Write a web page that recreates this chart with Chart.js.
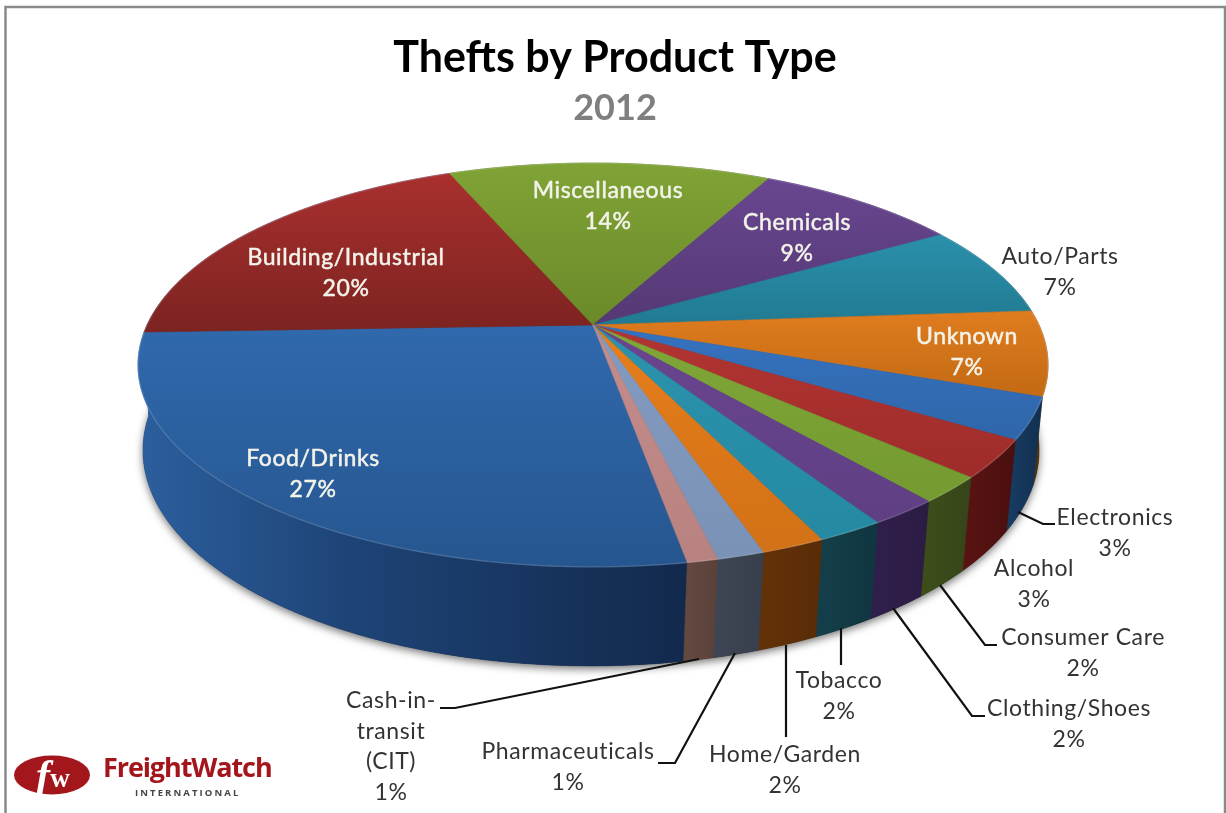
<!DOCTYPE html>
<html>
<head>
<meta charset="utf-8">
<title>Thefts by Product Type</title>
<script src="https://cdn.jsdelivr.net/npm/chart.js@4"></script>
<style>
  html, body { margin: 0; padding: 0; background: #fff; }
  canvas { display: block; }
</style>
</head>
<body>
<canvas id="pie" width="1226" height="813"></canvas>
<script>
const categories = ['Food/Drinks', 'Building/Industrial', 'Miscellaneous', 'Chemicals', 'Auto/Parts', 'Unknown',
    'Electronics', 'Alcohol', 'Consumer Care', 'Clothing/Shoes', 'Tobacco', 'Home/Garden', 'Pharmaceuticals', 'Cash-in-\ntransit\n(CIT)'];
// estimated from the slice edges, the printed labels are rounded
const shares = [27.2, 19.4, 13.9, 8.8, 7.4, 6.8, 3.3, 3.0, 2.1, 2.1, 2.0, 1.9, 1.4, 0.9];
const percentLabels = ['27%', '20%', '14%', '9%', '7%', '7%', '3%', '3%', '2%', '2%', '2%', '2%', '1%', '1%'];

const topLight = ['#3069ad', '#a9302f', '#80a336', '#694690', '#2a90ab', '#df7c1e', '#3572bf', '#b23532', '#80a738', '#6a4590', '#2b93ae', '#e67e1c', '#839bc0', '#c48d8b'];
const topDark = ['#26568f', '#7c2320', '#6a8a29', '#543974', '#217a92', '#c36a14', '#2f66aa', '#9e2c2a', '#749a30', '#5f3f84', '#2589a2', '#d27116', '#7a92b6', '#b88280'];
// Building wall only peeks out at the far left edge, where the original stays blue
const sideLeft = ['#2c5f9e', '#2c5f9e', '#4c6420', '#3a2850', '#18505f', '#5e3a12', '#183c64', '#5a1412', '#3d4e1a', '#301f4c', '#143f4a', '#633208', '#3e4554', '#64493f'];
const sideRight = ['#12294c', '#2c5f9e', '#3c5018', '#2e2040', '#123d47', '#3f2a14', '#12304f', '#4a0f0f', '#36451a', '#2b1c44', '#103640', '#592c08', '#383f4c', '#59423b'];

// label anchors are page pixels, text is centred on them
const labelCentres = [[313, 459], [346, 258], [608, 191], [797, 223], [1060, 257], [967, 337], [1115, 518], [1034, 569], [1083, 638], [1069, 709], [839, 681], [785, 755], [568, 752], [391, 701]];
const whiteLabels = 6; // first six except Auto/Parts sit on the pie
const leaderLines = [
    [[1018, 512], [1043, 524], [1055, 524]],
    [[940, 585], [985, 645], [997, 645]],
    [[893, 608], [972, 716], [985, 716]],
    [[841, 628], [841, 665]],
    [[786, 645], [786, 737]],
    [[735, 653], [675, 763], [658, 763]],
    [[699, 659], [455, 708], [440, 708]]
];

// perspective used to lay the flat pie down
const apex = { x: 593, y: 325 };
const view = { a: 446, b: 194, c: 0.198, depth: 84.5, shrink: 0.015, drift: 2 };

function project(theta, level) {
    const X = Math.sin(theta), Y = Math.cos(theta);
    const d = 1 + view.c * Y + (level ? view.shrink : 0);
    return {
        x: apex.x + view.a * X / d - (level ? view.drift : 0),
        y: apex.y - (view.b * Y - (level ? view.depth : 0)) / d
    };
}

function rimPoints(start, end, level) {
    const pts = [];
    const steps = Math.max(2, Math.ceil((end - start) / 0.01));
    for (let i = 0; i <= steps; i++) {
        pts.push(project(start + (end - start) * i / steps, level));
    }
    return pts;
}

function tracePoints(ctx, pts) {
    pts.forEach((p, i) => (i ? ctx.lineTo(p.x, p.y) : ctx.moveTo(p.x, p.y)));
}

const tiltedPie = {
    id: 'tiltedPie',
    beforeDraw(chart) {
        const ctx = chart.ctx;
        ctx.save();
        ctx.fillStyle = '#fff';
        ctx.fillRect(0, 0, chart.width, chart.height);
        ctx.strokeStyle = '#8a8a8a';
        ctx.lineWidth = 2.5;
        ctx.strokeRect(5.5, 7, 1219.5, 830);
        ctx.restore();
    },
    beforeDatasetDraw(chart) {
        const ctx = chart.ctx;
        const arcs = chart.getDatasetMeta(0).data;
        // chart.js measures from 3 o'clock, theta here from 12 o'clock
        const spans = arcs.map(a => [a.startAngle + Math.PI / 2, a.endAngle + Math.PI / 2]);

        ctx.save();
        // drop shadow under the whole puck
        ctx.shadowColor = 'rgba(0,0,0,0.55)';
        ctx.shadowBlur = 9;
        ctx.shadowOffsetY = 3;
        ctx.fillStyle = '#222';
        ctx.beginPath();
        tracePoints(ctx, rimPoints(0, Math.PI * 2, 1));
        ctx.closePath();
        ctx.fill();
        ctx.restore();

        // outer wall
        spans.forEach((s, i) => {
            const top = rimPoints(s[0], s[1], 0);
            const bottom = rimPoints(s[0], s[1], 1);
            const xs = top.concat(bottom).map(p => p.x);
            const g = ctx.createLinearGradient(Math.min(...xs), 0, Math.max(...xs), 0);
            g.addColorStop(0, sideLeft[i]);
            if (i === 0) g.addColorStop(0.38, '#1e4477');
            g.addColorStop(1, sideRight[i]);
            ctx.fillStyle = g;
            ctx.strokeStyle = g;
            ctx.lineWidth = 0.6;
            ctx.beginPath();
            tracePoints(ctx, top.concat(bottom.reverse()));
            ctx.closePath();
            ctx.fill();
            ctx.stroke();
        });

        // top face
        spans.forEach((s, i) => {
            const rim = rimPoints(s[0], s[1], 0);
            const ys = rim.map(p => p.y).concat(apex.y);
            const g = ctx.createLinearGradient(0, Math.min(...ys), 0, Math.max(...ys));
            g.addColorStop(0, topLight[i]);
            g.addColorStop(1, topDark[i]);
            ctx.fillStyle = g;
            ctx.strokeStyle = g;
            ctx.lineWidth = 0.6;
            ctx.beginPath();
            tracePoints(ctx, [apex].concat(rim));
            ctx.closePath();
            ctx.fill();
            ctx.stroke();
            // soft bevel along the rim
            ctx.strokeStyle = 'rgba(255,255,255,0.16)';
            ctx.lineWidth = 1.4;
            ctx.beginPath();
            tracePoints(ctx, rim);
            ctx.stroke();
        });
        return false;
    },
    afterDraw(chart) {
        const ctx = chart.ctx;
        ctx.save();

        ctx.strokeStyle = '#111';
        ctx.lineWidth = 2.2;
        leaderLines.forEach(line => {
            ctx.beginPath();
            line.forEach((p, i) => (i ? ctx.lineTo(p[0], p[1]) : ctx.moveTo(p[0], p[1])));
            ctx.stroke();
        });

        ctx.letterSpacing = '0.6px';
        ctx.font = '23px Lato';
        ctx.textAlign = 'center';
        ctx.textBaseline = 'middle';
        categories.forEach((name, i) => {
            const lines = name.split('\n').concat(percentLabels[i]);
            const inside = i < whiteLabels && i !== 4;
            ctx.fillStyle = inside ? '#f3f3ea' : '#333';
            ctx.strokeStyle = ctx.fillStyle;
            ctx.lineWidth = 0.5;
            lines.forEach((t, n) => {
                ctx.fillText(t, labelCentres[i][0], labelCentres[i][1] + n * 30.5);
                if (inside) ctx.strokeText(t, labelCentres[i][0], labelCentres[i][1] + n * 30.5);
            });
        });

        drawLogo(ctx);
        ctx.restore();
    }
};

function drawLogo(ctx) {
    ctx.save();
    ctx.fillStyle = '#a3161b';
    ctx.beginPath();
    ctx.ellipse(52, 775, 38, 19.5, 0, 0, Math.PI * 2);
    ctx.fill();
    ctx.fillStyle = '#fff';
    ctx.textAlign = 'center';
    ctx.textBaseline = 'alphabetic';
    ctx.letterSpacing = '0px';
    ctx.font = 'italic bold 42px "Liberation Serif"';
    ctx.fillText('f', 43, 789);
    ctx.font = 'bold 27px "Liberation Serif"';
    ctx.fillText('w', 60, 787);
    ctx.textAlign = 'left';
    ctx.fillStyle = '#a3161b';
    ctx.font = 'bold 27px "Open Sans"';
    ctx.letterSpacing = '-1.1px';
    ctx.fillText('FreightWatch', 103, 777);
    ctx.fillStyle = '#444';
    ctx.font = 'bold 9.5px "Open Sans"';
    ctx.letterSpacing = '2.1px';
    ctx.fillText('INTERNATIONAL', 135, 796);
    ctx.restore();
}

new Chart(document.getElementById('pie'), {
    type: 'pie',
    data: {
        labels: categories,
        datasets: [{ data: shares, backgroundColor: topLight }]
    },
    options: {
        responsive: false,
        animation: false,
        rotation: 170.2,
        layout: { padding: { left: 4 } },
        plugins: {
            legend: { display: false },
            tooltip: { enabled: false },
            title: {
                display: true,
                text: 'Thefts by Product Type',
                color: '#000',
                font: { family: 'Lato', size: 43, weight: 'bold' },
                padding: { top: 32, bottom: 0 }
            },
            subtitle: {
                display: true,
                text: '2012',
                color: '#7f7f7f',
                font: { family: 'Lato', size: 36, weight: 'bold' },
                padding: { top: 3, bottom: 0 }
            }
        }
    },
    plugins: [tiltedPie]
});
</script>
</body>
</html>
